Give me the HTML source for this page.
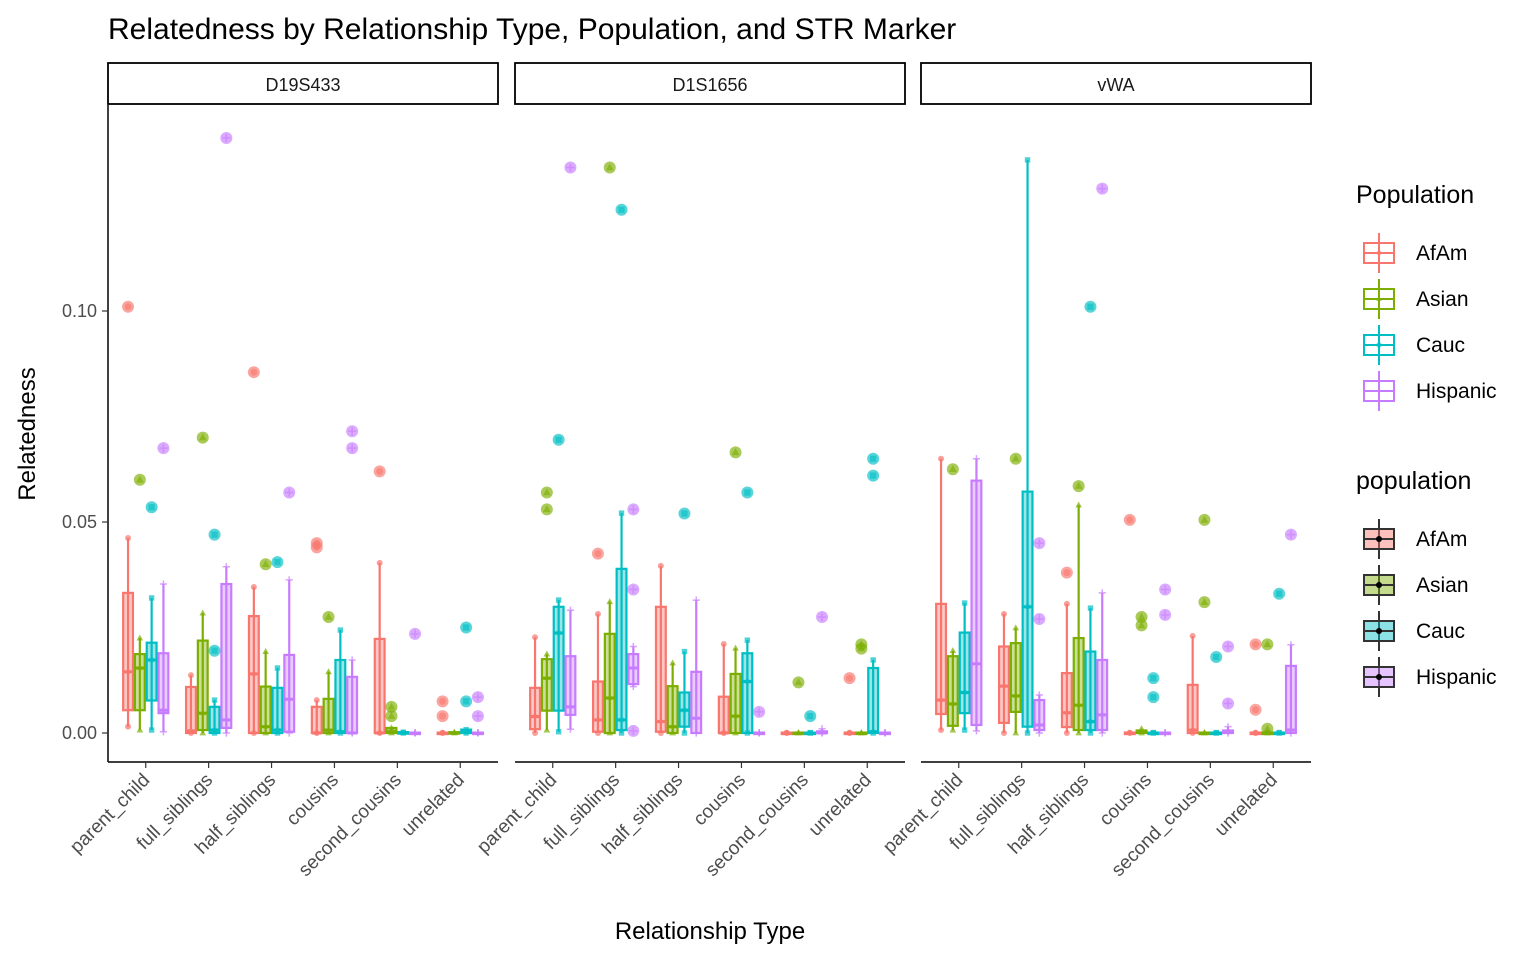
<!DOCTYPE html>
<html><head><meta charset="utf-8"><style>
body{margin:0;background:#fff;font-family:"Liberation Sans",Arial,sans-serif}
svg text{font-family:"Liberation Sans",Arial,sans-serif}
</style></head><body>
<svg id="c" width="1536" height="960" xmlns="http://www.w3.org/2000/svg">
<text x="108" y="39" font-size="30" fill="#000">Relatedness by Relationship Type, Population, and STR Marker</text>
<text x="710" y="939" font-size="24" text-anchor="middle" fill="#000">Relationship Type</text>
<text transform="translate(35,434) rotate(-90)" font-size="24" text-anchor="middle" fill="#000">Relatedness</text>
<g id="plot"></g>
<g id="legend"></g>
</svg>
<script>
const categories=["parent_child","full_siblings","half_siblings","cousins","second_cousins","unrelated"];
const populations=["AfAm","Asian","Cauc","Hispanic"];
const markers=["D19S433","D1S1656","vWA"];
const yTicks=[0,0.05,0.10];
const yTickLabels=["0.00","0.05","0.10"];
// box stats [lo,q1,median,q3,hi] in thousandths, ordered category x population
const boxesD19S433=[
[1.5,5.4,14.5,33.2,46.2],[0.7,5.4,15.4,18.7,22.5],[0.7,7.7,17.3,21.4,32],[0.3,4.7,5.4,18.9,35.3],
[0,0,0.5,10.9,13.7],[0,0.7,4.7,21.9,28.4],[0,0,0.7,6.2,7.8],[0,1.2,3.1,35.3,39.4],
[0,0,14,27.7,34.6],[0,0,1.5,11,19.3],[0,0,0.7,10.7,15.4],[0,0.3,8,18.5,36.3],
[0,0,0,6.2,7.8],[0,0,0.7,8.1,14.5],[0,0,0.3,17.3,24.4],[0,0,0,13.3,17.3],
[0,0,0,22.3,40.3],[0,0,0.3,1.2,1.2],[0,0,0.1,0.2,0.2],[0,0,0,0.1,0.1],
[0,0,0,0.1,0.1],[0,0,0,0.2,0.2],[0,0,0.2,0.8,0.8],[0,0,0,0.1,0.1]];
const boxesD1S1656=[
[0,0.9,3.9,10.7,22.7],[0.7,5.3,13,17.5,18.7],[0.3,5.3,23.7,29.9,31.5],[0.9,4.3,6.2,18.2,29.1],
[0,0.3,3.1,12.2,28.2],[0,0,8.3,23.5,31.1],[0,0.7,3.1,38.9,52.1],[11,11.6,15.4,18.7,20.5],
[0,0.3,2.7,29.9,39.6],[0,0,1.5,11.1,16.6],[0,1.5,5.4,9.6,19.3],[0,0,3.5,14.5,31.5],
[0,0,0,8.6,21.1],[0,0,4,14,20.1],[0,0,12.2,18.9,22],[0,0,0,0.1,0.1],
[0,0,0,0.1,0.1],[0,0,0,0.1,0.1],[0,0,0,0.1,0.1],[0,0,0,0.4,1],
[0,0,0,0.1,0.1],[0,0,0,0.1,0.1],[0,0,0.3,15.4,17.3],[0,0,0,0.1,0.1]];
const boxesVWA=[
[0.7,4.5,7.8,30.6,65],[0.7,1.7,6.9,18.2,19.5],[0.7,4.7,9.6,23.8,30.8],[0.5,1.9,16.4,59.8,65],
[0,2.4,11.1,20.5,28.2],[0,5,8.8,21.3,24.9],[0,1.5,29.9,57.2,135.8],[0,0.7,1.9,7.8,9],
[0,1.4,4.8,14.2,30.6],[0,0.7,6.6,22.5,54],[0,0.7,2.7,19.3,29.6],[0,0.7,4.3,17.3,33.2],
[0,0,0,0.1,0.1],[0,0,0.3,0.6,1],[0,0,0,0.1,0.1],[0,0,0,0.1,0.1],
[0,0,0.7,11.4,23],[0,0,0,0.1,0.1],[0,0,0,0.1,0.1],[0,0,0.2,0.6,1.5],
[0,0,0,0.1,0.1],[0,0,0,0.1,0.1],[0,0,0,0.1,0.1],[0,0,0.7,15.9,20.9]];
// outliers [categoryIndex, populationIndex, value in thousandths]
const outliersD19S433=[[0,0,101],[0,1,60],[0,2,53.5],[0,3,67.5],[1,1,70],[1,2,47],[1,2,19.5],[1,3,141],[2,0,85.5],[2,1,40],[2,2,40.5],[2,3,57],[3,0,45],[3,0,44],[3,1,27.5],[3,3,71.5],[3,3,67.5],[4,0,62],[4,1,6.2],[4,1,4],[4,3,23.5],[5,0,7.5],[5,0,4],[5,2,25],[5,2,7.5],[5,3,8.5],[5,3,4]];
const outliersD1S1656=[[0,1,57],[0,1,53],[0,2,69.5],[0,3,134],[1,0,42.5],[1,1,134],[1,2,124],[1,3,53],[1,3,34],[1,3,0.5],[2,2,52],[3,1,66.5],[3,2,57],[3,3,5],[4,1,12],[4,2,4],[4,3,27.5],[5,0,13],[5,1,21],[5,1,20],[5,2,65],[5,2,61]];
const outliersVWA=[[0,1,62.5],[1,1,65],[1,3,45],[1,3,27],[2,0,38],[2,1,58.5],[2,2,101],[2,3,129],[3,0,50.5],[3,1,27.5],[3,1,25.5],[3,2,13],[3,2,8.5],[3,3,34],[3,3,28],[4,1,50.5],[4,1,31],[4,2,18],[4,3,20.5],[4,3,7],[5,0,21],[5,0,5.5],[5,1,21],[5,1,1],[5,2,33],[5,3,47]];

const boxes=[boxesD19S433,boxesD1S1656,boxesVWA];
const outliers=[outliersD19S433,outliersD1S1656,outliersVWA];
const colors=["#F8766D","#7CAE00","#00BFC4","#C77CFF"];
const NS="http://www.w3.org/2000/svg";
const panelX=[108,515,921], panelW=390, band=panelW/6.2, bw=band*0.75/4;
function yScale(v){return 733-v*4220;}
function xCat(p,i){return panelX[p]+(i+0.6)*band;}
function xDodge(p,i,j){return xCat(p,i)+(j-1.5)*bw;}
function mk(tag,attrs,parent){const e=document.createElementNS(NS,tag);for(const k in attrs)e.setAttribute(k,attrs[k]);parent.appendChild(e);return e;}
function shape(g,j,x,y,s,col,op){
  if(j===0)return mk('circle',{cx:x,cy:y,r:s,fill:col,'fill-opacity':op},g);
  if(j===1)return mk('polygon',{points:`${x},${y-s*1.2} ${x-s*1.1},${y+s*0.8} ${x+s*1.1},${y+s*0.8}`,fill:col,'fill-opacity':op},g);
  if(j===2)return mk('rect',{x:x-s*0.9,y:y-s*0.9,width:s*1.8,height:s*1.8,fill:col,'fill-opacity':op},g);
  return mk('path',{d:`M${x-s*1.2},${y}H${x+s*1.2}M${x},${y-s*1.2}V${y+s*1.2}`,stroke:col,'stroke-width':1.5,'stroke-opacity':op,fill:'none'},g);
}
const plot=document.getElementById('plot');
const ya=mk('g',{},plot);


mk('line',{x1:108,y1:105,x2:108,y2:762,stroke:'#000','stroke-width':1.5},ya);
yTicks.forEach((t,k)=>{
  const y=yScale(t);
  mk('line',{x1:102,y1:y,x2:108,y2:y,stroke:'#333','stroke-width':1.2},ya);
  const tx=mk('text',{x:97,y:y+6,'font-size':18,'text-anchor':'end',fill:'#4d4d4d'},ya);
  tx.textContent=yTickLabels[k];
  
  
});
markers.forEach((m,p)=>{
  const g=mk('g',{},plot);
  
  
  const x0=panelX[p];
  const strip=mk('rect',{x:x0,y:63,width:panelW,height:41,fill:'#fff',stroke:'#000','stroke-width':1.8},g);
  
  
  const st=mk('text',{x:x0+panelW/2,y:91,'font-size':18,'text-anchor':'middle',fill:'#1a1a1a'},g);
  st.textContent=m;
  mk('line',{x1:x0,y1:762,x2:x0+panelW,y2:762,stroke:'#000','stroke-width':1.5},g);
  categories.forEach((c,i)=>{
    const xc=xCat(p,i);
    mk('line',{x1:xc,y1:762,x2:xc,y2:768,stroke:'#333','stroke-width':1.2},g);
    const t=mk('text',{transform:`translate(${xc+5},${781}) rotate(-45)`,'font-size':19,'text-anchor':'end',fill:'#4d4d4d'},g);
    t.textContent=c;
    
    
    populations.forEach((pop,j)=>{
      const b=boxes[p][i*4+j].map(v=>v/1000);
      const col=colors[j], xd=xDodge(p,i,j);
      const bg=mk('g',{},g);
      
      
      mk('line',{x1:xd,y1:yScale(b[0]),x2:xd,y2:yScale(b[4]),stroke:col,'stroke-width':2.2},bg);
      const top=yScale(b[3]), bot=yScale(b[1]);
      mk('rect',{x:xd-bw/2+1,y:top,width:bw-2,height:Math.max(bot-top,1.5),fill:col,'fill-opacity':0.4,stroke:col,'stroke-width':2.2},bg);
      mk('line',{x1:xd-bw/2+1,y1:yScale(b[2]),x2:xd+bw/2-1,y2:yScale(b[2]),stroke:col,'stroke-width':3},bg);
      shape(bg,j,xd,yScale(b[4]),3,col,0.7);
      shape(bg,j,xd,yScale(b[0]),3,col,0.7);
      shape(bg,j,xd,yScale(b[2]),2.5,col,0.5);
    });
  });
  outliers[p].forEach(o=>{
    const [i,j,v]=o;
    const x=xDodge(p,i,j), y=yScale(v/1000);
    const og=mk('g',{},g);
    
    
    mk('circle',{cx:x,cy:y,r:6,fill:colors[j],'fill-opacity':0.65},og);
    shape(og,j,x,y,3.5,colors[j],0.6);
  });
});
const lg=document.getElementById('legend');
function legend(title,y0,boxStyle){
  const g=mk('g',{},lg);
  
  
  const t=mk('text',{x:1356,y:y0,'font-size':25,fill:'#000'},g);
  t.textContent=title;
  populations.forEach((pop,j)=>{
    const yc=y0+50+j*46, col=boxStyle?'#333':colors[j];
    const e=mk('g',{},g);
    
    
    mk('line',{x1:1379,y1:yc-20,x2:1379,y2:yc+20,stroke:col,'stroke-width':2},e);
    mk('rect',{x:1364,y:yc-10,width:30,height:20,fill:colors[j],'fill-opacity':boxStyle?0.45:0,stroke:col,'stroke-width':2},e);
    mk('line',{x1:1364,y1:yc,x2:1394,y2:yc,stroke:col,'stroke-width':2},e);
    shape(e,boxStyle?0:j,1379,yc,boxStyle?3:2.5,boxStyle?'#000':col,boxStyle?1:0.6);
    const tx=mk('text',{x:1416,y:yc+7,'font-size':21,fill:'#000'},e);
    tx.textContent=pop;
  });
}
legend('Population',203,false);
legend('population',489,true);
</script>
</body></html>
